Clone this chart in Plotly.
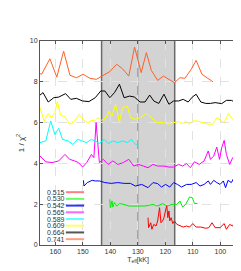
import plotly.graph_objects as go

labels = ["0.515", "0.530", "0.542", "0.565", "0.589", "0.609", "0.664", "0.741"]
colors = ["#ff0000", "#00ee00", "#0000ff", "#ff00ff", "#00ffff", "#ffff00", "#000000", "#ff6028"]
legend_colors = ["#ff8080", "#66ff66", "#3030ff", "#ff66ff", "#66ffff", "#ffff66", "#555555", "#ffa080"]

t_0515 = [126.3, 126.1, 125.3, 124.9, 124.2, 123.4, 122.8, 122.1, 121.6, 121.0, 120.5, 119.9, 119.5, 119.1, 118.7, 118.4, 117.9, 117.3, 116.7, 115.8, 114.7, 113.5, 112.3, 111.2, 110.0, 108.8, 107.1, 105.3, 104.2, 103.0, 101.9, 100.1, 98.6, 97.8, 96.6, 95.5, 94.5]
v_0515 = [1.34, 0.85, 1.09, 0.77, 1.01, 0.93, 1.18, 1.83, 1.09, 1.18, 1.34, 1.67, 1.96, 1.34, 1.67, 1.18, 1.34, 1.05, 1.18, 1.01, 0.93, 0.88, 0.93, 0.88, 1.05, 0.88, 0.88, 0.82, 0.85, 1.09, 0.85, 0.85, 1.05, 0.77, 1.01, 0.93, 1.26]

t_0530 = [140.2, 140.0, 139.4, 139.1, 138.5, 137.7, 136.7, 135.0, 133.3, 130.9, 127.4, 124.5, 122.8, 121.0, 119.3, 117.6, 115.8, 114.7, 113.7, 112.6, 111.2, 110.2, 109.4, 108.3]
v_0530 = [2.24, 1.83, 2.16, 1.86, 2.08, 1.91, 2.03, 1.99, 1.91, 1.91, 1.91, 1.99, 1.91, 2.03, 1.91, 1.99, 1.99, 2.16, 1.86, 1.99, 2.35, 2.32, 2.03, 2.04]

t_0542 = [149.8, 149.6, 148.4, 146.6, 145.5, 144.0, 142.0, 139.7, 137.3, 135.0, 132.7, 130.9, 128.6, 126.3, 124.5, 122.8, 121.4, 119.9, 118.4, 117.0, 115.6, 114.1, 112.3, 110.6, 108.8, 107.4, 105.9, 104.4, 103.6, 102.4, 101.3, 100.1, 98.9, 98.1, 97.2, 96.0, 94.9, 94.2]
v_0542 = [3.17, 2.89, 3.06, 3.17, 3.14, 3.14, 3.06, 3.02, 3.06, 3.02, 3.02, 2.89, 2.97, 2.81, 3.06, 3.01, 2.84, 2.97, 2.84, 3.06, 2.97, 2.84, 2.97, 2.97, 3.06, 2.89, 2.97, 3.14, 2.97, 3.17, 3.06, 2.97, 3.14, 2.81, 3.17, 3.06, 3.33, 3.22]

t_0565 = [165.6, 163.5, 161.2, 158.8, 156.5, 154.8, 153.0, 151.6, 150.1, 148.6, 146.9, 146.0, 145.2, 144.7, 144.0, 142.6, 140.8, 139.1, 137.3, 135.3, 133.3, 131.5, 129.8, 128.0, 126.3, 124.5, 122.8, 120.5, 118.7, 117.0, 115.2, 113.7, 112.3, 110.9, 109.4, 107.7, 105.9, 104.4, 103.6, 102.4, 101.3, 100.3, 99.5, 98.6, 97.8, 96.6, 95.5, 94.3]
v_0565 = [4.36, 4.08, 4.04, 4.12, 4.44, 4.20, 4.12, 4.04, 3.82, 4.04, 4.44, 4.28, 6.00, 5.10, 4.04, 4.20, 3.95, 4.12, 3.95, 4.04, 4.20, 3.87, 3.95, 3.87, 3.79, 3.95, 3.87, 3.87, 3.82, 3.82, 3.95, 3.87, 3.99, 3.79, 4.08, 3.95, 4.12, 4.61, 4.20, 4.36, 4.80, 4.20, 4.77, 5.13, 4.44, 3.95, 4.28, 4.12]

t_0589 = [165.6, 163.5, 161.7, 160.2, 158.8, 157.4, 155.3, 153.6, 151.9, 150.1, 148.6, 146.9, 145.5, 144.0, 142.3, 140.8, 139.1, 137.3, 135.6, 133.8, 132.3, 131.2, 129.8]
v_0589 = [5.02, 5.10, 6.08, 5.42, 5.72, 5.18, 5.10, 4.93, 5.18, 5.10, 5.02, 5.18, 5.10, 4.97, 5.18, 4.97, 5.10, 5.02, 5.10, 5.02, 5.18, 4.97, 4.85]

t_0609 = [165.6, 164.1, 162.6, 161.4, 160.2, 159.3, 158.1, 156.5, 154.8, 153.0, 151.3, 149.5, 148.1, 146.9, 145.7, 144.5, 143.1, 141.6, 140.5, 139.4, 138.1, 136.7, 135.6, 133.8, 132.7, 130.9, 129.2, 126.9, 125.1, 123.0, 120.7, 118.7, 117.0, 115.2, 113.7, 112.6, 111.4, 110.0, 108.3, 106.3, 104.4, 102.8, 101.3, 98.6, 97.0, 95.5, 94.3]
v_0609 = [6.73, 6.08, 6.44, 6.24, 6.49, 7.03, 6.37, 6.27, 5.92, 6.08, 6.41, 6.08, 6.00, 6.11, 6.08, 6.24, 6.11, 6.24, 6.57, 6.32, 6.90, 6.03, 6.73, 6.80, 6.24, 6.16, 6.24, 6.44, 6.24, 6.00, 6.00, 5.92, 6.00, 6.05, 5.95, 6.08, 5.92, 6.08, 6.08, 6.00, 5.92, 5.92, 6.24, 6.00, 6.44, 6.16, 6.32]

t_0664 = [165.6, 164.5, 162.6, 160.6, 158.8, 156.3, 154.4, 152.4, 150.1, 147.8, 145.5, 143.5, 142.0, 140.2, 138.5, 136.7, 135.0, 133.0, 131.2, 129.2, 127.4, 125.7, 124.2, 122.4, 120.5, 118.7, 117.0, 115.2, 113.5, 111.7, 110.2, 108.8, 107.1, 105.3, 103.6, 101.9, 99.5, 97.8, 96.0, 94.3]
v_0664 = [7.35, 7.47, 7.01, 7.22, 7.25, 7.42, 7.14, 7.19, 7.06, 7.03, 7.22, 7.55, 7.55, 7.22, 7.47, 7.88, 7.22, 7.30, 7.25, 7.01, 7.01, 7.35, 7.06, 6.94, 7.39, 6.90, 7.06, 7.06, 7.14, 7.01, 7.25, 7.39, 7.01, 6.94, 6.94, 6.98, 6.93, 7.09, 7.09, 6.98]

t_0741 = [165.6, 165.0, 162.0, 159.5, 157.0, 154.7, 152.3, 149.9, 147.4, 145.1, 143.1, 140.2, 137.7, 135.6, 133.3, 131.2, 128.8, 126.9, 125.1, 122.8, 120.7, 118.7, 116.7, 114.7, 112.9, 110.6, 108.8, 106.7, 104.8, 102.7]
v_0741 = [8.40, 8.37, 9.13, 8.23, 9.50, 8.32, 8.20, 8.37, 8.17, 8.12, 8.28, 8.50, 8.86, 8.64, 8.28, 9.70, 8.45, 9.43, 8.56, 8.07, 8.28, 8.12, 7.96, 8.20, 8.17, 8.61, 9.05, 8.37, 8.20, 8.00]

series_t = [t_0515, t_0530, t_0542, t_0565, t_0589, t_0609, t_0664, t_0741]
series_v = [v_0515, v_0530, v_0542, v_0565, v_0589, v_0609, v_0664, v_0741]

x_ticks = [160, 150, 140, 130, 120, 110, 100]
y_ticks = [0, 2, 4, 6, 8, 10]
band = [143.2, 116.6]
band_mid = 130

FONT = "Liberation Sans, Arial, sans-serif"

fig = go.Figure()
for lab, col, t, v in zip(labels, colors, series_t, series_v):
    fig.add_trace(go.Scatter(x=t, y=v, mode="lines", name=lab,
                             line=dict(color=col, width=1), showlegend=False))

# shaded band
fig.add_shape(type="rect", xref="x", yref="paper", x0=band[0], x1=band[1], y0=0, y1=1,
              fillcolor="#d3d3d3", line=dict(width=0), layer="between")
for xb in band:
    fig.add_shape(type="line", xref="x", yref="paper", x0=xb, x1=xb, y0=0, y1=1,
                  line=dict(color="#6a6a6a", width=1.5), layer="between")
fig.add_shape(type="line", xref="x", yref="paper", x0=band_mid, x1=band_mid, y0=0, y1=1,
              line=dict(color="#8a8a8a", width=1), layer="between")

# manual legend (gnuplot style: label, then line sample)
for i, (lab, lc) in enumerate(zip(labels, legend_colors)):
    py = 0.259 - i * 0.0329
    fig.add_annotation(xref="paper", yref="paper", x=0.028, y=py, text=lab,
                       showarrow=False, xanchor="left", yanchor="middle",
                       font=dict(family=FONT, size=7, color="#333333"))
    fig.add_shape(type="line", xref="paper", yref="paper", x0=0.132, x1=0.225, y0=py, y1=py,
                  line=dict(color=lc, width=2))

axis_common = dict(showline=True, linecolor="#555555", linewidth=1, mirror="ticks",
                   ticks="inside", ticklen=3, tickcolor="#555555",
                   showgrid=True, gridcolor="#e2e2e2", griddash="dash", gridwidth=0.5,
                   zeroline=False, tickfont=dict(family=FONT, size=7, color="#333333"))

fig.update_xaxes(range=[165.6, 94.3], tickvals=x_ticks, ticktext=[str(v) for v in x_ticks],
                 title=dict(text="T<sub>eff</sub>[kK]", standoff=2,
                            font=dict(family=FONT, size=7, color="#333333")),
                 **axis_common)
fig.update_yaxes(range=[0, 10], tickvals=y_ticks, ticktext=[str(v) for v in y_ticks],
                 title=dict(text="1 / χ<sup>2</sup>", standoff=4,
                            font=dict(family=FONT, size=8, color="#333333")),
                 **axis_common)

fig.update_layout(width=241, height=271,
                  margin=dict(l=24, r=12, t=33, b=34),
                  plot_bgcolor="white", paper_bgcolor="white",
                  showlegend=False)

fig.write_html("out.html")
